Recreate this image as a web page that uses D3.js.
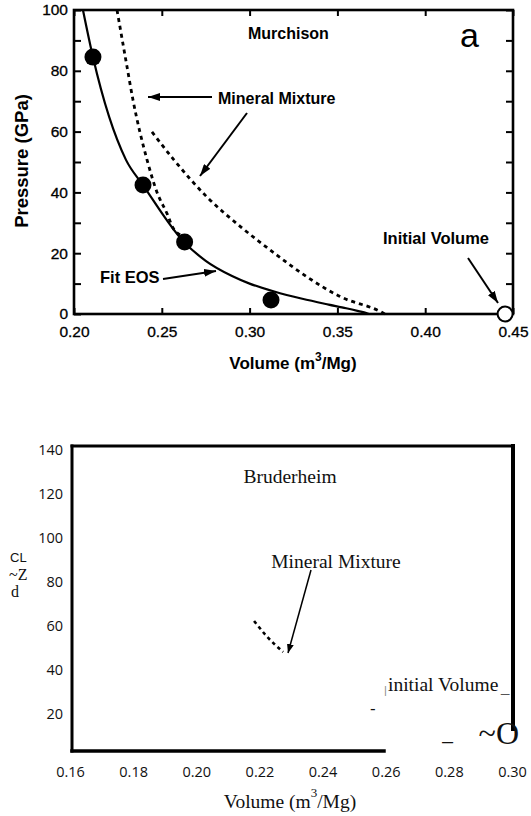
<!DOCTYPE html>
<html>
<head>
<meta charset="utf-8">
<script src="https://cdn.jsdelivr.net/npm/d3@7"></script>
<style>
  body { margin: 0; background: #fff; }
  svg { display: block; }
</style>
</head>
<body>
<svg id="chart" width="531" height="816"></svg>
<script>
// ---------- DATA: panel a (Murchison) ----------
const murchVolTicks = [0.20, 0.25, 0.30, 0.35, 0.40, 0.45];
const murchPresTicks = [0, 20, 40, 60, 80, 100];
const murchMinorPresTicks = [10, 30, 50, 70, 90];
// measured points [volume, pressure]
const murchPoints = [[0.2108, 84.5], [0.2393, 42.4], [0.2630, 23.7], [0.3122, 4.6]];
const murchInitial = [[0.4455, 0]];
// fitted EOS
const murchFitEOS = [[0.2051, 100], [0.2108, 84.5], [0.2296, 50.7], [0.2393, 42.4], [0.2626, 23.7],
                     [0.2750, 17.5], [0.2900, 12.5], [0.3000, 10.0], [0.3140, 7.4], [0.3300, 5.0],
                     [0.3450, 3.1], [0.3550, 1.9], [0.3620, 0.95], [0.3665, 0.3], [0.3680, 0]];
// mineral mixture, steep branch
const murchMixA = [[0.2245, 100], [0.2302, 81.3], [0.2336, 70.4], [0.2416, 50.7], [0.2473, 40.0],
                   [0.2530, 33.0], [0.2564, 28.3], [0.2604, 26.0]];
// mineral mixture, second branch
const murchMixB = [[0.2444, 59.9], [0.2569, 50.7], [0.2757, 38.5], [0.2951, 28.6], [0.3139, 20.1],
                   [0.3327, 12.2], [0.3520, 5.6], [0.3748, 0.7], [0.3770, 0]];

// ---------- DATA: panel b (Bruderheim) ----------
const brudVolTicks = [0.16, 0.18, 0.20, 0.22, 0.24, 0.26, 0.28, 0.30];
const brudPresTicks = [20, 40, 60, 80, 100, 120, 140];
const brudMix = [[0.2183, 62.3], [0.2222, 55.5], [0.2275, 48.2]];

const svg = d3.select("#chart");
const SANS = "'Liberation Sans', Arial, sans-serif";
const SERIF = "'Liberation Serif', 'Times New Roman', serif";

// arrow markers
const defs = svg.append("defs");
function marker(id, len, wid) {
  defs.append("marker").attr("id", id)
    .attr("markerUnits", "userSpaceOnUse")
    .attr("markerWidth", len).attr("markerHeight", wid)
    .attr("refX", len).attr("refY", wid / 2).attr("orient", "auto")
    .append("path").attr("d", `M0,0 L${len},${wid / 2} L0,${wid} Z`).attr("fill", "#000");
}
marker("arrowA", 12, 8);
marker("arrowB", 9, 7);

// ================= PANEL A =================
const xA = d3.scaleLinear().domain([0.20, 0.45]).range([74, 513]);
const yA = d3.scaleLinear().domain([0, 100]).range([314, 10]);
const gA = svg.append("g");

function styleAxis(g, size) {
  g.select(".domain").remove();
  g.selectAll(".tick line").attr("stroke", "#000").attr("stroke-width", 2);
  g.selectAll(".tick text").attr("fill", "#000").attr("font-family", SANS).attr("font-size", size)
    .attr("stroke", "#000").attr("stroke-width", 0.3);
}

// bottom axis (labels, inward ticks)
gA.append("g").attr("transform", "translate(0,314)")
  .call(d3.axisBottom(xA).tickValues(murchVolTicks).tickFormat(d3.format(".2f")).tickSizeInner(-6).tickSizeOuter(0).tickPadding(12))
  .call(g => styleAxis(g, 15.5));
// top axis (ticks only)
gA.append("g").attr("transform", "translate(0,10)")
  .call(d3.axisTop(xA).tickValues(murchVolTicks).tickFormat("").tickSizeInner(-6).tickSizeOuter(0))
  .call(g => styleAxis(g, 15.5));
// left axis
gA.append("g").attr("transform", "translate(74,0)")
  .call(d3.axisLeft(yA).tickValues(murchPresTicks).tickFormat(d3.format("d")).tickSizeInner(-7).tickSizeOuter(0).tickPadding(6))
  .call(g => styleAxis(g, 15.5));
gA.append("g").attr("transform", "translate(74,0)")
  .call(d3.axisLeft(yA).tickValues(murchMinorPresTicks).tickFormat("").tickSizeInner(-7).tickSizeOuter(0))
  .call(g => styleAxis(g, 15.5));
// right axis
gA.append("g").attr("transform", "translate(513,0)")
  .call(d3.axisRight(yA).tickValues(murchPresTicks.concat(murchMinorPresTicks)).tickFormat("").tickSizeInner(-7).tickSizeOuter(0))
  .call(g => styleAxis(g, 15.5));

// frame
gA.append("rect").attr("x", xA(0.20)).attr("y", yA(100))
  .attr("width", xA(0.45) - xA(0.20)).attr("height", yA(0) - yA(100))
  .attr("fill", "none").attr("stroke", "#000").attr("stroke-width", 2.6);

const lineA = d3.line().x(d => xA(d[0])).y(d => yA(d[1])).curve(d3.curveMonotoneX);
gA.append("path").datum(murchFitEOS).attr("d", lineA)
  .attr("fill", "none").attr("stroke", "#000").attr("stroke-width", 2.2);
gA.append("path").datum(murchMixA).attr("d", lineA)
  .attr("fill", "none").attr("stroke", "#000").attr("stroke-width", 2.8).attr("stroke-dasharray", "4,4");
gA.append("path").datum(murchMixB).attr("d", lineA)
  .attr("fill", "none").attr("stroke", "#000").attr("stroke-width", 2.8).attr("stroke-dasharray", "4,4");

gA.selectAll("circle.pt").data(murchPoints).enter().append("circle").attr("class", "pt")
  .attr("cx", d => xA(d[0])).attr("cy", d => yA(d[1])).attr("r", 8.5).attr("fill", "#000");
gA.selectAll("circle.init").data(murchInitial).enter().append("circle").attr("class", "init")
  .attr("cx", d => xA(d[0])).attr("cy", d => yA(d[1])).attr("r", 7.5)
  .attr("fill", "#fff").attr("stroke", "#000").attr("stroke-width", 2);

// annotations
const txtA = (x, y, s, size, weight) => gA.append("text").attr("x", x).attr("y", y)
  .attr("font-family", SANS).attr("font-size", size).attr("font-weight", weight || "bold").attr("fill", "#000").text(s);
txtA(248, 39, "Murchison", 16);
txtA(460, 47, "a", 34, "normal");
txtA(218, 104, "Mineral Mixture", 16);
txtA(100, 283, "Fit EOS", 16.5);
txtA(383, 244, "Initial Volume", 16.5);

const arrowA = (x1, y1, x2, y2) => gA.append("line").attr("x1", x1).attr("y1", y1).attr("x2", x2).attr("y2", y2)
  .attr("stroke", "#000").attr("stroke-width", 2).attr("marker-end", "url(#arrowA)");
arrowA(212, 97, 148, 97);
arrowA(247, 113, 200, 176);
arrowA(163, 279, 216, 271);
arrowA(468, 258, 498, 303);

// axis titles
gA.append("text").attr("x", 293).attr("y", 369).attr("text-anchor", "middle")
  .attr("font-family", SANS).attr("font-size", 17).attr("font-weight", "bold")
  .call(t => {
    t.append("tspan").text("Volume (m");
    t.append("tspan").attr("dy", -8).attr("font-size", 12).text("3");
    t.append("tspan").attr("dy", 8).text("/Mg)");
  });
gA.append("text").attr("transform", "translate(28,161) rotate(-90)").attr("text-anchor", "middle")
  .attr("font-family", SANS).attr("font-size", 18.5).attr("font-weight", "bold").text("Pressure (GPa)");

// ================= PANEL B =================
const xB = d3.scaleLinear().domain([0.16, 0.30]).range([70, 512]);
const yB = d3.scaleLinear().domain([0, 140]).range([758, 450]);
const gB = svg.append("g");
const TICKB = "'Open Sans', 'DejaVu Sans', sans-serif";

gB.append("g").attr("transform", "translate(0,759)")
  .call(d3.axisBottom(xB).tickValues(brudVolTicks).tickFormat(d3.format(".2f")).tickSize(0).tickPadding(8))
  .call(g => { g.select(".domain").remove(); g.selectAll("text").attr("font-family", TICKB).attr("font-size", 14.5).attr("fill", "#111"); });
gB.append("g").attr("transform", "translate(70,0)")
  .call(d3.axisLeft(yB).tickValues(brudPresTicks).tickFormat(d3.format("d")).tickSize(0).tickPadding(7))
  .call(g => { g.select(".domain").remove(); g.selectAll("text").attr("font-family", TICKB).attr("font-size", 14.5).attr("fill", "#111"); });

// frame pieces
const seg = (x1, y1, x2, y2, w) => gB.append("line").attr("x1", x1).attr("y1", y1).attr("x2", x2).attr("y2", y2)
  .attr("stroke", "#000").attr("stroke-width", w).attr("stroke-linecap", "square");
seg(72, 446, 512, 446, 3);
seg(72, 446, 72, 751, 3);
seg(72, 751, 384, 751, 3.5);
seg(513, 446, 513, 729, 4);

const lineB = d3.line().x(d => xB(d[0])).y(d => yB(d[1])).curve(d3.curveMonotoneX);
gB.append("path").datum(brudMix).attr("d", lineB)
  .attr("fill", "none").attr("stroke", "#000").attr("stroke-width", 2.6).attr("stroke-dasharray", "3.5,3.5");

gB.append("line").attr("x1", 311).attr("y1", 570).attr("x2", 288).attr("y2", 653)
  .attr("stroke", "#000").attr("stroke-width", 1.5).attr("marker-end", "url(#arrowB)");

const txtB = (x, y, s, size, anchor, fam, fill) => gB.append("text").attr("x", x).attr("y", y)
  .attr("text-anchor", anchor || "start").attr("font-family", fam || SERIF).attr("font-size", size)
  .attr("fill", fill || "#111").text(s);
txtB(290, 483, "Bruderheim", 19.5, "middle");
txtB(336, 568, "Mineral Mixture", 19.5, "middle");
txtB(388, 691, "initial Volume", 19.5);
txtB(384, 694, "|", 11, "start", SANS, "#888");
txtB(501, 692, "_", 15, "start", SANS, "#555");
txtB(370, 714, "-", 17, "start", SANS);
txtB(442, 748, "–", 20, "start", SANS);
txtB(519, 744, "~O", 32, "end");

// garbled y title
txtB(10, 562, "CL", 13, "start", SANS);
txtB(9, 580, "~Z", 16);
txtB(11, 597, "d", 16);

// x title
gB.append("text").attr("x", 290).attr("y", 808).attr("text-anchor", "middle")
  .attr("font-family", SERIF).attr("font-size", 19.5).attr("fill", "#111")
  .call(t => {
    t.append("tspan").text("Volume (m");
    t.append("tspan").attr("dy", -11).attr("font-size", 13).text("3");
    t.append("tspan").attr("dy", 11).text("/Mg)");
  });
</script>
</body>
</html>
